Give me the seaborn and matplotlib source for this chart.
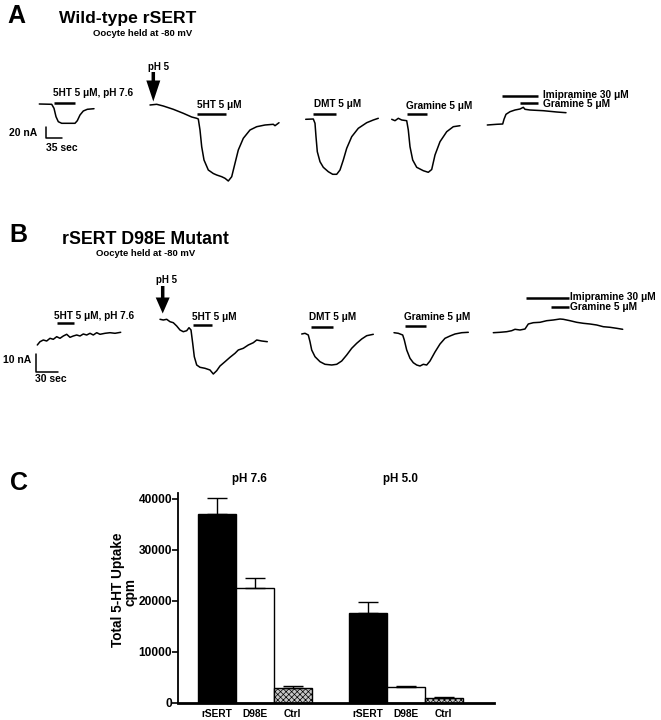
import matplotlib
matplotlib.use("Agg")
import matplotlib.pyplot as plt
import seaborn as sns
import pandas as pd
from matplotlib.patches import FancyArrow

# ---------------- Panel C data ----------------
ph_groups = ["pH 7.6", "pH 7.6", "pH 7.6", "pH 5.0", "pH 5.0", "pH 5.0"]
constructs = ["rSERT", "D98E", "Ctrl", "rSERT", "D98E", "Ctrl"]
uptake_cpm = [36900, 22500, 2750, 17600, 2950, 950]
uptake_sem = [3250, 1950, 400, 2100, 280, 150]
yticks_c = [0, 10000, 20000, 30000, 40000]

# ---------------- Panel A traces (time axis, current axis) ----------------
a1_t = [39.3, 51.7, 54, 56, 58.3, 61.7, 75, 77.3, 80, 83.3, 87.3, 94]
a1_i = [104, 104.3, 108.3, 116.7, 121.7, 123.3, 123.3, 120.7, 115, 111, 109.3, 108.7]
a2_t = [150, 156.7, 163.3, 173.3, 183.3, 191.7, 196.7, 198.3, 200, 201.7, 204, 208.3, 213.3,
        216.7, 221.7, 225, 228.3, 231.7, 235, 238.3, 243.3, 250, 256.7, 265, 273.3, 275, 279]
a2_i = [105, 104.3, 106, 109.3, 113.3, 117, 118.3, 119, 130, 146.7, 160, 170, 173.5,
        175, 176.7, 178.3, 181, 176.7, 163.3, 150, 138.3, 130, 126.7, 125, 124.3, 125.7, 122.7]
a3_t = [305.7, 313.3, 315, 316, 317.3, 320, 323.3, 328.3, 332.7, 336.7, 340, 343.3, 346.7,
        351.7, 358.3, 366.7, 373.3, 378.3]
a3_i = [119.3, 119, 123.3, 136.7, 151.7, 161.7, 167.3, 171.7, 174.3, 174.3, 170, 160, 148.3,
        136.7, 128.3, 122.7, 120, 118.3]
a4_t = [391.7, 395, 398.3, 401.7, 406.7, 408.3, 410, 412.7, 416.7, 423.3, 428.3, 431.7, 435,
        440, 446.7, 453.3, 460]
a4_i = [119.3, 120.7, 118.3, 120, 120.7, 130, 146.7, 160, 167.3, 170.7, 172.3, 169.5, 155,
        141.7, 131.7, 126.7, 125.7]
a5_t = [487.3, 496.7, 502.7, 504, 506, 510, 515, 520, 523.3, 525, 530, 543.3, 556.7, 566]
a5_i = [125, 124.3, 124, 119.3, 114.3, 111.7, 110, 109, 107.3, 109.3, 110, 110.7, 112, 112.7]

# ---------------- Panel B traces ----------------
b1_t = [37.3, 40, 43.3, 46.7, 50, 53.3, 56.7, 60, 63.3, 66.7, 70, 73.3, 76.7, 80, 83.3, 86.7,
        90, 93.3, 96.7, 100, 105, 110, 115, 120.7]
b1_i = [345, 341.7, 340, 341, 338.3, 339.3, 336.7, 338.3, 336, 334.3, 337.3, 336, 335, 336,
        334, 335, 333.3, 335, 332.7, 334.3, 333.3, 332.7, 333.3, 332.3]
b2_t = [160, 163.3, 166.7, 170, 173.3, 176.7, 180, 183.3, 186.7, 189, 191, 192.7, 194.3,
        196.7, 200, 205, 210, 213.3, 216.7, 220, 225, 230, 235, 238.3, 243.3, 248.3, 253.3,
        256.7, 261.7, 267.3]
b2_i = [319.3, 320, 319.3, 321.7, 322.7, 326, 330, 331.7, 330.7, 327.7, 330, 343.3, 356.7,
        365, 367.3, 368.3, 370, 374, 370.7, 366, 361.7, 357.3, 353.3, 350, 348.3, 345, 342.7,
        340, 341, 341.7]
b3_t = [301.7, 305, 308.3, 310, 311.7, 315, 320, 325, 331.7, 336.7, 341.7, 346.7, 351.7,
        356.7, 361.7, 366.7, 373.3]
b3_i = [334, 333.3, 335, 341.7, 350, 356.7, 361.7, 364.3, 365, 364.3, 361, 355, 348.3, 343.3,
        339, 335.7, 334.3]
b4_t = [394, 398.3, 402.7, 404.3, 406.7, 410, 413.3, 416.7, 420, 423.3, 426.7, 430, 435, 440,
        445, 450, 455, 461.7, 468.3]
b4_i = [332.7, 333.3, 335, 340, 350, 358.3, 362.7, 365, 366, 364.3, 365, 361, 352, 344,
        338.3, 336, 334, 332.7, 332.3]
b5_t = [493.3, 500, 506.7, 511.7, 515, 520, 525, 528.3, 533.3, 540, 546.7, 553.3, 560, 563.3,
        570, 576.7, 583.3, 590, 596.7, 603.3, 610, 616.7, 622.7]
b5_i = [332.7, 332.3, 331.7, 330.7, 329.3, 330, 329, 324, 322.7, 322.3, 320.7, 320, 319,
        319.3, 320.7, 322.3, 323.3, 324, 325, 326.7, 327.3, 328.3, 329.3]

# drug application bars: (start, end, level)
a_drug_bars = [(54.3, 75.3, 102.7), (197.3, 226, 114.3), (313.3, 336, 114), (406.7, 427.3, 114.3),
               (501.7, 538.3, 95.7), (520, 538.3, 102.7)]
b_drug_bars = [(57.3, 74, 323.3), (192.7, 211.7, 325), (311, 333.3, 326.7), (405, 426, 326),
               (526, 569.3, 298.3), (550.7, 569.3, 307.3)]

sns.set_theme(style="ticks")
plt.rcParams["font.family"] = ["Liberation Sans", "DejaVu Sans"]
for k in ["text.color", "axes.labelcolor", "xtick.color", "ytick.color", "axes.edgecolor"]:
    plt.rcParams[k] = "black"
plt.rcParams["hatch.color"] = "#9a9a9a"
plt.rcParams["hatch.linewidth"] = 0.5

W, H = 661, 720
fig = plt.figure(figsize=(W / 100, H / 100), dpi=100)
fig.patch.set_facecolor("white")

# ---------------- Panel C: bar chart ----------------
axc = fig.add_axes([178.5 / W, (H - 702.5) / H, 315.4 / W, 209.2 / H])
df = pd.DataFrame({"pH": ph_groups, "construct": constructs,
                   "uptake": uptake_cpm, "sem": uptake_sem})
hue_order = ["rSERT", "D98E", "Ctrl"]
ph_order = ["pH 7.6", "pH 5.0"]
sns.barplot(data=df, x="pH", y="uptake", hue="construct", order=ph_order,
            hue_order=hue_order,
            palette={"rSERT": "black", "D98E": "white", "Ctrl": "#c6c6c6"},
            edgecolor="black", linewidth=1.0, width=0.756, errorbar=None,
            saturation=1, legend=False, ax=axc)

bar_containers = list(axc.containers)
centers, labels = [], []
for hi, cont in enumerate(bar_containers):
    for pi, bar in enumerate(cont):
        row = df[(df["pH"] == ph_order[pi]) & (df["construct"] == hue_order[hi])].iloc[0]
        cx = bar.get_x() + bar.get_width() / 2
        centers.append(cx)
        labels.append(hue_order[hi])
        axc.errorbar([cx], [row["uptake"]], yerr=[[0], [row["sem"]]], fmt="none",
                     ecolor="black", elinewidth=1.0, capsize=7, capthick=1.0, zorder=1)
        if hue_order[hi] == "Ctrl":
            bar.set_hatch("xxxxxx")
            if hasattr(bar, "set_hatchcolor"):
                bar.set_hatchcolor("#9a9a9a")

axc.set_xticks(centers)
axc.set_xticklabels(labels, fontsize=7.3, fontweight="bold")
axc.set_yticks(yticks_c)
axc.set_yticklabels([str(v) for v in yticks_c], fontsize=8.6, fontweight="bold")
axc.tick_params(axis="x", length=0, pad=5)
axc.tick_params(axis="y", direction="out", length=4, width=1.2, pad=0.6, colors="black")
axc.set_xlim(-0.505, 1.584)
axc.set_ylim(0, 41060)
axc.set_xlabel("")
axc.set_ylabel("")
sns.despine(ax=axc)
axc.spines["bottom"].set_linewidth(2.0)
axc.spines["left"].set_linewidth(1.3)
axc.spines["bottom"].set_color("black")
axc.spines["left"].set_color("black")
axc.set_facecolor("none")
for gi, g in enumerate(ph_order):
    axc.text(gi - 0.035, 43800, g, ha="center", va="center", fontsize=8.4,
             fontweight="bold", clip_on=False, color="black")

# ---------------- Overlay for panels A and B ----------------
ov = fig.add_axes([0, 0, 1, 1])
ov.set_facecolor("none")
ov.axis("off")

for tt, ii in [(a1_t, a1_i), (a2_t, a2_i), (a3_t, a3_i), (a4_t, a4_i), (a5_t, a5_i),
               (b1_t, b1_i), (b2_t, b2_i), (b3_t, b3_i), (b4_t, b4_i), (b5_t, b5_i)]:
    sns.lineplot(x=tt, y=ii, ax=ov, color="black", linewidth=1.1, estimator=None, sort=False)

for (x0, x1, yl) in a_drug_bars + b_drug_bars:
    ov.plot([x0, x1], [yl, yl], color="black", lw=1.8, solid_capstyle="butt")

# scale bars
ov.plot([46.3, 46.3, 61.7], [126.7, 138.3, 138.3], color="black", lw=1.1)
ov.plot([35.7, 35.7, 57.7], [354, 371.7, 371.7], color="black", lw=1.1)

# arrows (pH 5 switch)
ov.add_patch(FancyArrow(153.3, 72, 0, 29.5, width=3.5, head_width=14, head_length=21,
                        length_includes_head=True, color="black", lw=0))
ov.add_patch(FancyArrow(162.7, 286, 0, 27.5, width=3.5, head_width=14, head_length=16,
                        length_includes_head=True, color="black", lw=0))

def t(x, y, s, size, ha="center", va="center", **kw):
    ov.text(x, y, s, fontsize=size, ha=ha, va=va, fontweight="bold", color="black", **kw)

# Panel A text
t(16.8, 16, "A", 18)
t(59, 19, "Wild-type rSERT", 12.6, ha="left")
t(142.4, 33.3, "Oocyte held at -80 mV", 6.8)
t(92.9, 93.3, "5HT 5 \u03bcM, pH 7.6", 7.2)
t(158, 67.5, "pH 5", 7)
t(219.2, 105.5, "5HT 5 \u03bcM", 7.2)
t(337.8, 104.3, "DMT 5 \u03bcM", 7.2)
t(439.2, 106, "Gramine 5 \u03bcM", 7.2)
t(542.7, 95, "Imipramine 30 \u03bcM", 7.3, ha="left")
t(542.7, 104.3, "Gramine 5 \u03bcM", 7.3, ha="left")
t(22.8, 132.7, "20 nA", 7.5)
t(61.5, 148.3, "35 sec", 7.5)

# Panel B text
t(17.9, 235.5, "B", 18)
t(62.4, 239, "rSERT D98E Mutant", 12.8, ha="left")
t(145.5, 253.3, "Oocyte held at -80 mV", 6.8)
t(94.5, 316, "5HT 5 \u03bcM, pH 7.6", 7.2)
t(166.5, 280, "pH 5", 7)
t(214, 316.5, "5HT 5 \u03bcM", 7.2)
t(333, 317.3, "DMT 5 \u03bcM", 7.2)
t(436.7, 317.3, "Gramine 5 \u03bcM", 7.2)
t(570, 297.3, "Imipramine 30 \u03bcM", 7.3, ha="left")
t(570, 307.3, "Gramine 5 \u03bcM", 7.3, ha="left")
t(16.7, 360, "10 nA", 7.5)
t(51, 379.3, "30 sec", 7.5)

# Panel C text
t(18.7, 482.5, "C", 18)
t(118, 590, "Total 5-HT Uptake", 9.8, rotation=90)
t(130.5, 591.7, "cpm", 9.8, rotation=90)

ov.set_xlim(0, W)
ov.set_ylim(H, 0)

fig.savefig("out.png", dpi=100)
